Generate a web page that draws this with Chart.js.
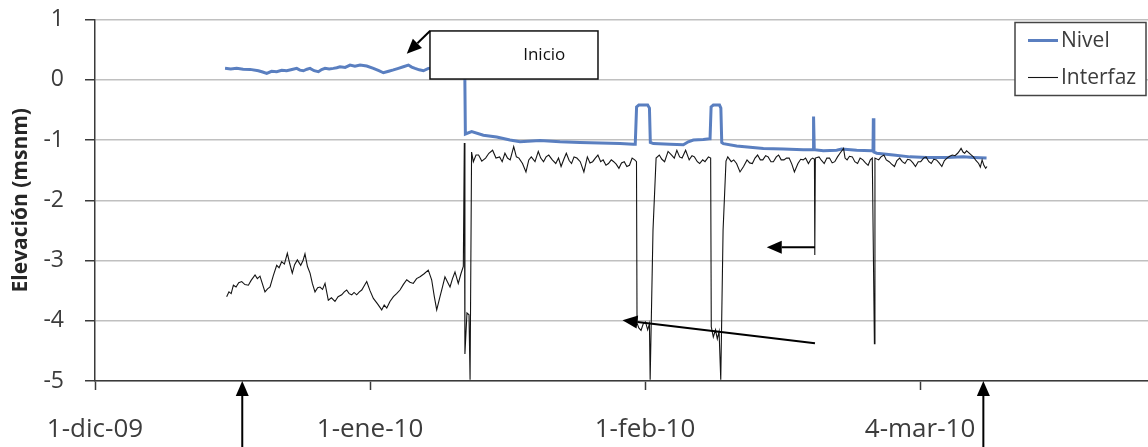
<!DOCTYPE html>
<html lang="es">
<head>
<meta charset="utf-8">
<title>Elevación — Nivel e Interfaz</title>
<script src="https://cdn.jsdelivr.net/npm/chart.js@4.4.1/dist/chart.umd.min.js"></script>
<style>
  html, body { margin: 0; padding: 0; background: #ffffff; }
  #wrap { width: 1148px; height: 447px; }
  canvas { display: block; }
</style>
</head>
<body>
<div id="wrap"><canvas id="grafico" width="1148" height="447"></canvas></div>
<script>
// Time axis: days counted from 1-dic-09
const ticksDias = [0, 31, 62, 93];
const ticksEtiquetas = ['1-dic-09', '1-ene-10', '1-feb-10', '4-mar-10'];
const diaMaximo = 118.7;

const ticksElevacion = [-5, -4, -3, -2, -1, 0, 1];

const series = ['Nivel', 'Interfaz'];

// Nivel (msnm)
const nivelDias = [
  14.66, 15.3, 15.97, 16.7, 17.48, 18.42, 18.9, 19.36, 19.9, 20.48,
  21.05, 21.61, 22.2, 22.74, 23.1, 23.49, 23.9, 24.24, 24.7, 25.18,
  25.55, 25.93, 26.4, 26.87, 27.25, 27.62, 28.2, 28.75, 29.3, 29.88,
  30.63, 31.38, 32.0, 32.51, 33.1, 33.64, 34.2, 34.76, 35.33, 35.7,
  36.08, 36.55, 37.02, 37.58, 38.6, 40.0, 41.3, 41.68, 41.75,
  42.46, 43.78, 45.28, 46.78, 47.91, 50.16, 52.42, 54.67, 56.93, 59.18,
  60.68, 60.9, 61.05, 61.3, 62.3, 62.5, 62.6, 62.94, 64.82, 66.32,
  66.88, 67.45, 68.57, 69.25, 69.33, 69.45, 69.7, 70.4, 70.55, 70.65,
  70.83, 72.33, 73.84, 75.34, 77.59, 79.84, 80.79, 80.95, 81.0, 81.08,
  82.1, 83.6, 84.17, 85.86, 87.55, 87.7, 87.74, 87.8, 88.12, 89.99,
  91.87, 93.75, 96.0, 97.88, 99.0, 100.5
];
const nivelValores = [
  0.189, 0.18, 0.189, 0.175, 0.172, 0.149, 0.128, 0.106, 0.14, 0.133,
  0.158, 0.149, 0.17, 0.189, 0.16, 0.149, 0.175, 0.189, 0.15, 0.133,
  0.17, 0.189, 0.18, 0.189, 0.2, 0.216, 0.205, 0.244, 0.225, 0.244,
  0.227, 0.189, 0.15, 0.116, 0.14, 0.163, 0.19, 0.216, 0.244, 0.21,
  0.189, 0.165, 0.149, 0.189, 0.2, 0.21, 0.19, 0.19, -0.9,
  -0.86, -0.92, -0.95, -1.0, -1.03, -1.01, -1.03, -1.04, -1.05, -1.06,
  -1.07, -1.07, -0.45, -0.42, -0.42, -0.47, -1.04, -1.06, -1.07, -1.08,
  -1.03, -1.0, -0.99, -0.98, -0.98, -0.45, -0.42, -0.42, -0.47, -1.04,
  -1.06, -1.10, -1.12, -1.14, -1.15, -1.16, -1.16, -1.16, -0.61, -1.16,
  -1.18, -1.17, -1.15, -1.17, -1.18, -1.18, -0.64, -1.2, -1.22, -1.25,
  -1.28, -1.29, -1.29, -1.28, -1.29, -1.30
];

// Interfaz (msnm)
const interfazDias = [
  14.84, 15.1, 15.35, 15.6, 15.9, 16.2, 16.54, 16.9, 17.29, 17.6,
  18.04, 18.3, 18.6, 18.9, 19.16, 19.45, 19.73, 20.1, 20.48, 20.75,
  21.04, 21.35, 21.68, 21.95, 22.24, 22.5, 22.81, 23.19, 23.45, 23.67,
  23.95, 24.24, 24.5, 24.8, 25.1, 25.36, 25.65, 25.93, 26.3, 26.65,
  27.05, 27.4, 27.81, 28.1, 28.37, 28.65, 28.94, 29.2, 29.5, 29.8,
  30.07, 30.35, 30.63, 31.0, 31.38, 31.85, 32.32, 32.6, 32.89, 33.25,
  33.64, 34.0, 34.38, 34.75, 35.14, 35.5, 35.88, 36.25, 36.64, 37.1,
  37.57, 37.95, 38.25, 38.52, 38.89, 39.15, 39.45, 39.75, 40.02, 40.3,
  40.58, 40.95, 41.25, 41.52,
  41.63, 41.70, 41.93, 42.16, 42.28, 42.45,
  42.65, 42.95, 43.24, 43.6, 44.03, 44.4, 44.82, 45.2, 45.61, 45.9,
  46.21, 46.5, 46.8, 47.2, 47.5, 47.79, 48.19, 48.58, 48.9, 49.18,
  49.6, 49.97, 50.25, 50.56, 50.85, 51.15, 51.55, 51.94, 52.25, 52.54,
  52.85, 53.13, 53.45, 53.72, 54.0, 54.32, 54.7, 55.11, 55.5, 55.8,
  56.1, 56.4, 56.69, 57.0, 57.28, 57.6, 57.88, 58.2, 58.47, 58.75,
  59.06, 59.35, 59.66, 59.95, 60.25, 60.55, 60.84, 61.04,
  61.10, 61.3, 61.55, 61.8, 62.05, 62.3, 62.5, 62.58, 62.9, 63.25,
  63.61, 63.9, 64.21, 64.6, 65.0, 65.3, 65.59, 65.9, 66.18, 66.58,
  66.98, 67.3, 67.57, 67.9, 68.16, 68.5, 68.76, 69.15, 69.4,
  69.47, 69.7, 69.95, 70.15, 70.35, 70.54, 70.8, 71.13,
  71.33, 71.72, 72.0, 72.32, 72.71, 73.11, 73.5, 73.8, 74.1, 74.4,
  74.69, 75.0, 75.28, 75.6, 75.88, 76.2, 76.47, 76.8, 77.06, 77.35,
  77.66, 77.95, 78.25, 78.55, 78.84, 79.24, 79.55, 79.83, 80.1, 80.42,
  80.7, 80.9, 81.1, 81.14, 81.2,
  81.61, 81.9, 82.2, 82.5, 82.8, 83.1, 83.39, 83.7, 83.98, 84.38,
  84.55, 84.78, 85.05, 85.37, 85.65, 85.96, 86.25, 86.56, 86.85, 87.15,
  87.4, 87.62, 87.86, 87.92,
  88.34, 88.6, 88.93, 89.2, 89.52, 89.8, 90.12, 90.4, 90.71, 91.0,
  91.3, 91.6, 91.9, 92.2, 92.49, 92.8, 93.08, 93.4, 93.68, 94.0,
  94.27, 94.55, 94.86, 95.15, 95.46, 95.75, 96.05, 96.35, 96.64, 96.95,
  97.24, 97.45, 97.63, 97.85, 98.03, 98.25, 98.42, 98.7, 99.02, 99.3,
  99.61, 99.8, 100.0, 100.2, 100.4, 100.55
];
const interfazValores = [
  -3.60, -3.52, -3.55, -3.41, -3.44, -3.37, -3.35, -3.40, -3.41, -3.33,
  -3.24, -3.30, -3.26, -3.40, -3.52, -3.47, -3.44, -3.25, -3.08, -3.12,
  -3.02, -3.06, -2.88, -3.05, -3.21, -3.07, -2.99, -3.08, -3.00, -2.89,
  -3.10, -3.21, -3.38, -3.52, -3.45, -3.44, -3.48, -3.38, -3.66, -3.62,
  -3.68, -3.60, -3.57, -3.52, -3.49, -3.55, -3.57, -3.53, -3.57, -3.52,
  -3.49, -3.42, -3.35, -3.50, -3.63, -3.72, -3.82, -3.74, -3.79, -3.68,
  -3.60, -3.55, -3.49, -3.40, -3.32, -3.36, -3.38, -3.30, -3.27, -3.22,
  -3.16, -3.32, -3.60, -3.82, -3.60, -3.45, -3.27, -3.36, -3.44, -3.30,
  -3.19, -3.38, -3.22, -3.10,
  -1.05, -4.55, -3.87, -3.90, -4.98, -1.20,
  -1.36, -1.25, -1.25, -1.35, -1.30, -1.22, -1.17, -1.30, -1.28, -1.36,
  -1.22, -1.30, -1.33, -1.11, -1.28, -1.30, -1.39, -1.53, -1.33, -1.28,
  -1.36, -1.19, -1.30, -1.36, -1.28, -1.25, -1.33, -1.39, -1.30, -1.44,
  -1.32, -1.22, -1.34, -1.39, -1.28, -1.30, -1.36, -1.53, -1.28, -1.38,
  -1.36, -1.30, -1.25, -1.36, -1.33, -1.42, -1.39, -1.33, -1.36, -1.40,
  -1.47, -1.38, -1.36, -1.44, -1.42, -1.30, -1.33, -1.36,
  -4.04, -4.12, -4.16, -4.05, -4.02, -4.15, -4.05, -4.98, -2.5, -1.30,
  -1.25, -1.32, -1.36, -1.19, -1.25, -1.30, -1.17, -1.28, -1.30, -1.17,
  -1.33, -1.26, -1.28, -1.36, -1.39, -1.33, -1.36, -1.28, -1.30,
  -4.10, -4.27, -4.15, -4.30, -4.18, -4.98, -2.5, -1.35,
  -1.28, -1.36, -1.33, -1.39, -1.53, -1.44, -1.33, -1.38, -1.39, -1.30,
  -1.25, -1.33, -1.33, -1.26, -1.28, -1.36, -1.36, -1.28, -1.25, -1.33,
  -1.33, -1.30, -1.30, -1.40, -1.53, -1.39, -1.32, -1.33, -1.30, -1.39,
  -1.32, -1.30, -1.32, -2.91, -1.30,
  -1.28, -1.34, -1.39, -1.30, -1.30, -1.38, -1.36, -1.28, -1.22, -1.14,
  -1.30, -1.33, -1.27, -1.28, -1.36, -1.39, -1.30, -1.33, -1.38, -1.42,
  -1.33, -1.30, -4.38, -1.30,
  -1.33, -1.28, -1.25, -1.33, -1.36, -1.40, -1.44, -1.34, -1.30, -1.36,
  -1.39, -1.32, -1.33, -1.38, -1.44, -1.36, -1.36, -1.30, -1.28, -1.36,
  -1.39, -1.32, -1.33, -1.38, -1.44, -1.34, -1.30, -1.27, -1.25, -1.26,
  -1.22, -1.18, -1.14, -1.20, -1.22, -1.18, -1.20, -1.24, -1.28, -1.34,
  -1.39, -1.45, -1.33, -1.42, -1.47, -1.44
];

// Callout box and arrows, placed in data units (day, msnm)
const cuadroInicio = { texto: 'Inicio', x0: 37.76, y0: 0.81, x1: 56.7, y1: 0.012 };
const flechas = [
  { desde: [37.76, 0.81], hacia: [35.14, 0.43] },
  { desde: [16.6, -6.3], hacia: [16.6, -5.0] },
  { desde: [100.14, -6.3], hacia: [100.14, -5.0] },
  { desde: [81.16, -2.78], hacia: [75.72, -2.78] },
  { desde: [81.16, -4.375], hacia: [59.46, -3.99] }
];

const FUENTE = "'Open Sans', 'Liberation Sans', sans-serif";
const COLOR_NIVEL = '#5a7fc0';
const COLOR_INTERFAZ = '#141414';
const COLOR_TEXTO = '#3c3c3c';
const COLOR_EJE = '#3a3a3a';

const puntos = (dias, valores) => dias.map((d, i) => ({ x: d, y: valores[i] }));

function dibujarFlecha(ctx, ax, ay, bx, by) {
  const ang = Math.atan2(by - ay, bx - ax);
  const largo = 15, medio = 6.5;
  const baseX = bx - Math.cos(ang) * largo;
  const baseY = by - Math.sin(ang) * largo;
  ctx.beginPath();
  ctx.moveTo(ax, ay);
  ctx.lineTo(baseX, baseY);
  ctx.lineWidth = 2;
  ctx.strokeStyle = '#000';
  ctx.stroke();
  ctx.beginPath();
  ctx.moveTo(bx, by);
  ctx.lineTo(baseX - Math.sin(ang) * medio, baseY + Math.cos(ang) * medio);
  ctx.lineTo(baseX + Math.sin(ang) * medio, baseY - Math.cos(ang) * medio);
  ctx.closePath();
  ctx.fillStyle = '#000';
  ctx.fill();
}

const notas = {
  id: 'notas',
  afterDatasetsDraw(chart) {
    const { ctx, scales: { x, y } } = chart;
    ctx.save();
    // "Inicio" callout
    const bx0 = x.getPixelForValue(cuadroInicio.x0), by0 = y.getPixelForValue(cuadroInicio.y0);
    const bx1 = x.getPixelForValue(cuadroInicio.x1), by1 = y.getPixelForValue(cuadroInicio.y1);
    ctx.fillStyle = '#ffffff';
    ctx.fillRect(bx0, by0, bx1 - bx0, by1 - by0);
    ctx.lineWidth = 1.5;
    ctx.strokeStyle = '#111';
    ctx.strokeRect(bx0, by0, bx1 - bx0, by1 - by0);
    ctx.fillStyle = '#111';
    ctx.font = `17px ${FUENTE}`;
    ctx.textAlign = 'center';
    ctx.textBaseline = 'middle';
    ctx.fillText(cuadroInicio.texto, bx0 + (bx1 - bx0) * 0.68, (by0 + by1) / 2);
    ctx.restore();
  },
  afterDraw(chart) {
    const { ctx, scales: { x, y }, chartArea } = chart;
    ctx.save();
    flechas.forEach(f => {
      dibujarFlecha(ctx,
        x.getPixelForValue(f.desde[0]), y.getPixelForValue(f.desde[1]),
        x.getPixelForValue(f.hacia[0]), y.getPixelForValue(f.hacia[1]));
    });

    // Legend box, top right
    const lx = chartArea.right - 133, ly = chartArea.top + 3, lw = 131, lh = 73;
    ctx.fillStyle = '#ffffff';
    ctx.fillRect(lx, ly, lw, lh);
    ctx.lineWidth = 1.5;
    ctx.strokeStyle = '#444';
    ctx.strokeRect(lx, ly, lw, lh);
    ctx.font = `21px ${FUENTE}`;
    ctx.textAlign = 'left';
    ctx.textBaseline = 'middle';
    chart.data.datasets.forEach((ds, i) => {
      const cy = ly + 18 + i * 37;
      ctx.beginPath();
      ctx.moveTo(lx + 13, cy);
      ctx.lineTo(lx + 43, cy);
      ctx.lineWidth = ds.borderWidth;
      ctx.strokeStyle = ds.borderColor;
      ctx.stroke();
      ctx.fillStyle = COLOR_TEXTO;
      ctx.fillText(ds.label, lx + 46, cy + 1);
    });
    ctx.restore();
  }
};

new Chart(document.getElementById('grafico'), {
  type: 'line',
  data: {
    datasets: [
      {
        label: series[0],
        data: puntos(nivelDias, nivelValores),
        borderColor: COLOR_NIVEL,
        borderWidth: 3,
        pointRadius: 0,
        tension: 0,
        order: 1
      },
      {
        label: series[1],
        data: puntos(interfazDias, interfazValores),
        borderColor: COLOR_INTERFAZ,
        borderWidth: 1.1,
        pointRadius: 0,
        tension: 0,
        order: 0
      }
    ]
  },
  options: {
    responsive: false,
    animation: false,
    devicePixelRatio: 1,
    layout: { padding: { top: 19.5, right: 0, bottom: 0, left: 0 } },
    plugins: { legend: { display: false }, tooltip: { enabled: false } },
    scales: {
      x: {
        type: 'linear',
        min: 0,
        max: diaMaximo,
        afterBuildTicks: s => { s.ticks = ticksDias.map(v => ({ value: v })); },
        afterFit: s => { s.height = 66; s.paddingRight = 0; },
        ticks: {
          autoSkip: false,
          maxRotation: 0,
          padding: 24,
          color: COLOR_TEXTO,
          font: { family: FUENTE, size: 26 },
          callback: v => ticksEtiquetas[ticksDias.indexOf(v)]
        },
        grid: { drawOnChartArea: false, drawTicks: true, tickLength: 9, tickColor: COLOR_EJE, tickWidth: 1.5 },
        border: { color: COLOR_EJE, width: 1.5 }
      },
      y: {
        min: ticksElevacion[0],
        max: ticksElevacion[ticksElevacion.length - 1],
        afterBuildTicks: s => { s.ticks = ticksElevacion.map(v => ({ value: v })); },
        afterFit: s => { s.width = 95; s.paddingTop = 0; s.paddingBottom = 0; },
        ticks: {
          padding: 21,
          color: COLOR_TEXTO,
          font: { family: FUENTE, size: 23 },
          callback: v => String(v).replace('\u2212', '-')
        },
        grid: { color: '#c0c0c0', lineWidth: 1.5, tickLength: 10, tickColor: COLOR_EJE, tickWidth: 1.5 },
        border: { color: COLOR_EJE, width: 1.5 },
        title: {
          display: true,
          text: 'Elevación (msnm)',
          color: '#262626',
          font: { family: FUENTE, size: 21, weight: 'bold' },
          padding: { top: 8, bottom: 0 }
        }
      }
    }
  },
  plugins: [notas]
});
</script>
</body>
</html>
